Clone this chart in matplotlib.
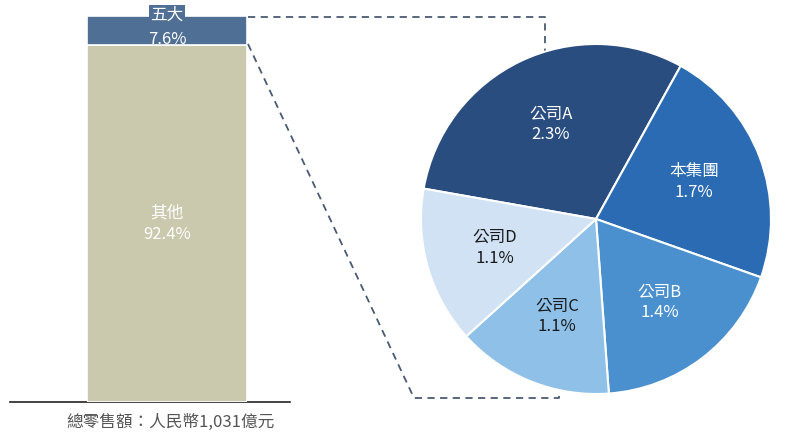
import matplotlib
matplotlib.use("Agg")
import matplotlib.pyplot as plt
import numpy as np

plt.rcParams['font.family'] = ['Noto Sans CJK TC', 'DejaVu Sans']

bar_labels = ["其他", "五大"]
bar_values = [92.4, 7.6]
bar_colors = ["#cac8ad", "#4f6f95"]

pie_labels = ["公司A", "本集團", "公司B", "公司C", "公司D"]
pie_values = [2.3, 1.7, 1.4, 1.1, 1.1]
pie_colors = ["#2a4d80", "#2a6bb3", "#4a90cf", "#8fc0e8", "#d0e2f4"]
pie_text_colors = ["white", "white", "white", "#1a1a1a", "#1a1a1a"]
xlabel = "總零售額：人民幣1,031億元"

W, H = 800, 444
fig = plt.figure(figsize=(W/100, H/100), dpi=100)

ax = fig.add_axes([0, 0, 1, 1])
ax.set_xlim(0, W); ax.set_ylim(H, 0); ax.axis('off')

bx = fig.add_axes([87/W, 1-402/H, 160/W, 386/H])
bottom = 0
for lab, v, c in zip(bar_labels, bar_values, bar_colors):
    bx.bar(0, v, bottom=bottom, width=1, color=c, edgecolor='white', linewidth=1.2)
    if v > 20:
        bx.text(0, bottom + v/2, f"{lab}\n{v}%", ha='center', va='center', color='white', fontsize=12, linespacing=1.3)
    else:
        top = bottom + v
        bx.text(0, top + 0.3, lab, ha='center', va='center', color='white', fontsize=12, clip_on=False,
                bbox=dict(boxstyle='square,pad=0.1', fc=c, ec='none'))
        bx.text(0, top - 6.2, f"{v}%", ha='center', va='center', color='white', fontsize=12, clip_on=False)
    bottom += v
bx.set_xlim(-0.5, 0.5); bx.set_ylim(0, 100); bx.axis('off')

ax.plot([10, 290], [402, 402], color='#222222', lw=1.2)
ax.text(170, 422, xlabel, ha='center', va='center', fontsize=12, color='#555555')

dc = '#4a5a72'
ax.plot([248, 545, 545], [17, 17, 80], ls=(0, (4, 3)), color=dc, lw=1.3, zorder=1)
ax.plot([248, 414, 414, 559, 559], [44, 398, 398, 398, 392], ls=(0, (4, 3)), color=dc, lw=1.3, zorder=1)

R = 175
px = fig.add_axes([(596-R)/W, 1-(219+R)/H, 2*R/W, 2*R/H])
wedges, texts = px.pie(pie_values, colors=pie_colors, startangle=170, counterclock=False,
                       wedgeprops=dict(edgecolor='white', linewidth=1.5), radius=1)
px.set_xlim(-1, 1); px.set_ylim(-1, 1)
px.set_aspect('equal')
for w, lab, v, tc in zip(wedges, pie_labels, pie_values, pie_text_colors):
    ang = np.deg2rad((w.theta1 + w.theta2) / 2)
    r = 0.6
    px.text(r*np.cos(ang), r*np.sin(ang), f"{lab}\n{v}%", ha='center', va='center',
            color=tc, fontsize=12, linespacing=1.3)

fig.savefig("out.png", dpi=100)
